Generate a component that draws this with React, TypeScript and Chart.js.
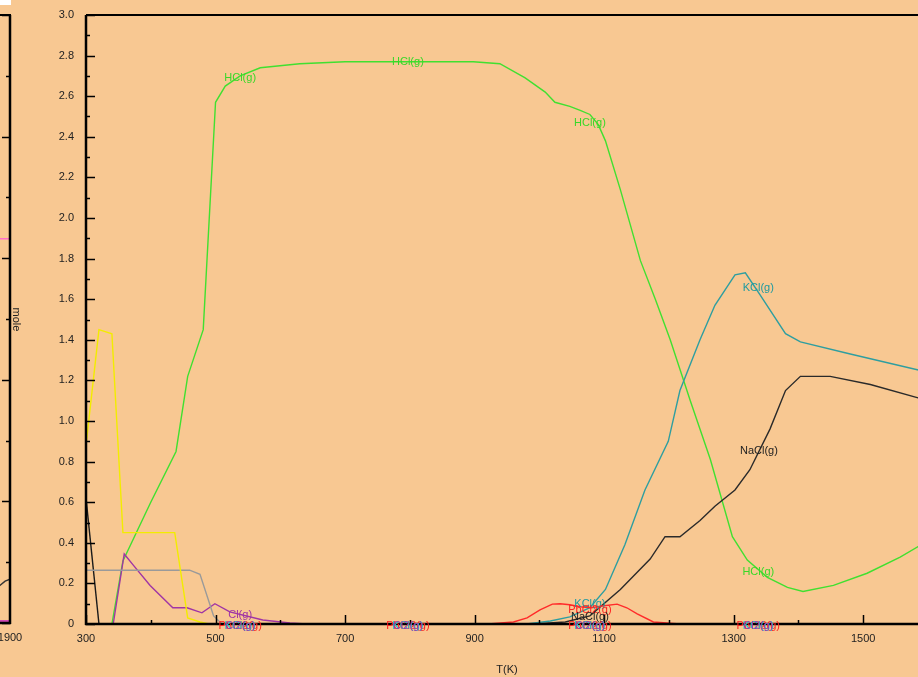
import React, { useEffect, useRef } from 'react';
import { Chart, registerables } from 'chart.js';
Chart.register(...registerables);

const BG = 'rgb(248,200,146)';
const FONT = 'Liberation Sans, Arial, sans-serif';
const TXT = '#222';

// ---- main chart data (T in K, amount in mole) ----
const hclT = [325, 340, 357, 400, 439, 457, 481, 500, 515, 538, 569, 630, 700, 898, 939, 978, 1009, 1024, 1047, 1063, 1078, 1091, 1102, 1125, 1156, 1179, 1202, 1233, 1264, 1298, 1321, 1352, 1383, 1407, 1454, 1506, 1557, 1600];
const hclV = [0, 0, 0.31, 0.6, 0.85, 1.22, 1.45, 2.57, 2.65, 2.7, 2.74, 2.76, 2.77, 2.77, 2.76, 2.69, 2.62, 2.57, 2.55, 2.53, 2.51, 2.46, 2.38, 2.14, 1.79, 1.6, 1.4, 1.1, 0.81, 0.43, 0.315, 0.23, 0.18, 0.16, 0.19, 0.25, 0.33, 0.41];

const yelT = [300, 320, 340, 357, 437, 457, 476, 490];
const yelV = [0.88, 1.45, 1.43, 0.45, 0.45, 0.03, 0.01, 0];

const greyT = [300, 460, 476, 497, 510];
const greyV = [0.265, 0.265, 0.245, 0.04, 0];

const purT = [335, 342, 359, 373, 399, 434, 456, 479, 499, 522, 573, 615, 640, 700];
const purV = [0, 0, 0.345, 0.29, 0.19, 0.08, 0.08, 0.055, 0.1, 0.06, 0.02, 0.005, 0, 0];

const blkT = [300, 320];
const blkV = [0.62, 0];

const redT = [921, 960, 981, 1001, 1020, 1032, 1047, 1063, 1080, 1100, 1120, 1135, 1151, 1176, 1217];
const redV = [0, 0.01, 0.03, 0.07, 0.098, 0.1, 0.095, 0.085, 0.08, 0.09, 0.098, 0.08, 0.05, 0.01, 0];

const kclT = [980, 1017, 1047, 1078, 1102, 1132, 1163, 1199, 1217, 1248, 1271, 1302, 1318, 1341, 1380, 1403, 1480, 1600];
const kclV = [0, 0.015, 0.035, 0.08, 0.17, 0.39, 0.66, 0.9, 1.15, 1.4, 1.57, 1.72, 1.73, 1.62, 1.43, 1.39, 1.33, 1.24];

const naclT = [990, 1040, 1078, 1125, 1171, 1194, 1217, 1248, 1271, 1302, 1325, 1356, 1380, 1403, 1449, 1511, 1600];
const naclV = [0, 0.01, 0.04, 0.17, 0.32, 0.43, 0.43, 0.51, 0.58, 0.66, 0.76, 0.96, 1.15, 1.22, 1.22, 1.18, 1.1];

// ---- curve labels (anchored in data space) ----
const labText = ['HCl(g)', 'HCl(g)', 'HCl(g)', 'HCl(g)', 'KCl(g)', 'KCl(g)', 'NaCl(g)', 'PbCl2(g)', 'NaCl(g)', 'Cl(g)'];
const labColor = ['#38D828', '#38D828', '#38D828', '#38D828', '#1E9AA0', '#1E9AA0', '#222222', '#FF2020', '#222222', '#A035A5'];
const labT = [538, 797, 1078, 1338, 1338, 1078, 1339, 1078, 1078, 538];
const labV = [2.69, 2.77, 2.47, 0.256, 1.655, 0.1, 0.85, 0.068, 0.034, 0.044];

// overlapping labels of species that stay at zero
const zeroLabT = [538, 797, 1078, 1338];
const zeroLabText = ['PbCl2(g)', 'KCl(g)', 'Cl2(g)'];
const zeroLabColor = ['#FF2020', '#10C8D8', '#A035A5'];

// ---- axis ticks ----
const xMin = 300, xMax = 1600, xStep = 100, xMajor = 200;
const yMin = 0, yMax = 3, yStep = 0.1, yMajor = 0.2;

// ---- left (cropped) neighbour panel ----
const leftXMin = 300, leftXMax = 1900;
const leftYMax = 2.5;
const pinkT = [1500, 1900];
const pinkV = [1.58, 1.58];
const lblkT = [1780, 1830, 1870, 1900];
const lblkV = [0.13, 0.15, 0.172, 0.18];
const lmagT = [1700, 1900];
const lmagV = [0.008, 0.008];

const pts = (t: number[], v: number[]) => t.map((x, i) => ({ x, y: v[i] }));
const isMajor = (v: number, base: number, step: number) => {
  const r = (v - base) / step;
  return Math.abs(r - Math.round(r)) < 1e-6;
};

function ds(t: number[], v: number[], color: string) {
  return { data: pts(t, v), borderColor: color, borderWidth: 1.4, pointRadius: 0, tension: 0, fill: false };
}

export default function App() {
  const mainRef = useRef<HTMLCanvasElement>(null);
  const leftRef = useRef<HTMLCanvasElement>(null);

  useEffect(() => {
    const line = (ctx: CanvasRenderingContext2D, x1: number, y1: number, x2: number, y2: number) => {
      ctx.beginPath();
      ctx.moveTo(x1, y1);
      ctx.lineTo(x2, y2);
      ctx.stroke();
    };

    const mainPlugin = {
      id: 'mainDeco',
      afterDraw(chart: any) {
        const { ctx, chartArea: a, scales } = chart;
        const xs = scales.x, ys = scales.y;
        ctx.save();
        ctx.strokeStyle = '#000';
        ctx.lineWidth = 1.5;
        ys.ticks.forEach((t: any) => {
          const p = Math.round(ys.getPixelForValue(t.value)) + 0.5;
          const len = isMajor(t.value, yMin, yMajor) ? 9 : 4;
          line(ctx, a.left, p, a.left + len, p);
        });
        xs.ticks.forEach((t: any) => {
          const p = Math.round(xs.getPixelForValue(t.value)) + 0.5;
          const len = isMajor(t.value, xMin, xMajor) ? 9 : 4;
          line(ctx, p, a.bottom, p, a.bottom - len);
        });
        ctx.lineWidth = 2.5;
        line(ctx, a.left, a.top, a.left, a.bottom + 1);
        line(ctx, a.left - 1, a.bottom, a.right, a.bottom);
        ctx.lineWidth = 2;
        line(ctx, a.left, a.top, a.right, a.top);

        // y title
        ctx.fillStyle = TXT;
        ctx.font = `11px ${FONT}`;
        ctx.textAlign = 'center';
        ctx.textBaseline = 'middle';
        ctx.save();
        ctx.translate(16, (a.top + a.bottom) / 2);
        ctx.rotate(Math.PI / 2);
        ctx.fillText('mole', 0, 0);
        ctx.restore();

        // curve labels
        ctx.font = `11px ${FONT}`;
        labText.forEach((s, i) => {
          ctx.fillStyle = labColor[i];
          ctx.fillText(s, xs.getPixelForValue(labT[i]), ys.getPixelForValue(labV[i]));
        });
        zeroLabT.forEach((tv) => {
          const px = xs.getPixelForValue(tv);
          const py = ys.getPixelForValue(0) + 2;
          zeroLabText.forEach((s, j) => {
            ctx.fillStyle = zeroLabColor[j];
            ctx.fillText(s, px, py);
          });
        });
        ctx.restore();
      },
    };

    const mainChart = new Chart(mainRef.current as HTMLCanvasElement, {
      type: 'line',
      data: {
        datasets: [
          ds(yelT, yelV, '#F2EC00'),
          ds(greyT, greyV, '#9A9A9A'),
          ds(blkT, blkV, '#1a1a1a'),
          ds(purT, purV, '#A035A5'),
          ds(redT, redV, '#FF2A2A'),
          ds(kclT, kclV, '#2E9EA0'),
          ds(naclT, naclV, '#2a2a2a'),
          ds(hclT, hclV, '#40E030'),
        ] as any,
      },
      options: {
        animation: false,
        responsive: false,
        maintainAspectRatio: false,
        parsing: false,
        layout: { padding: { top: 15, right: 12, left: 0, bottom: 0 } },
        plugins: { legend: { display: false }, tooltip: { enabled: false } },
        scales: {
          x: {
            type: 'linear',
            min: xMin,
            max: xMax,
            grid: { display: false, drawTicks: true, tickLength: 8 },
            border: { display: false },
            ticks: {
              stepSize: xStep,
              autoSkip: false,
              maxRotation: 0,
              padding: 0,
              color: TXT,
              font: { family: FONT, size: 11 },
              callback: (v: any) => (isMajor(Number(v), xMin, xMajor) ? String(v) : ''),
            },
            title: { display: true, text: 'T(K)', color: TXT, font: { family: FONT, size: 11 }, padding: { top: 0, bottom: 0 } },
            afterFit: (s: any) => {
              s.height = 53;
              s.paddingLeft = 0;
              s.paddingRight = 0;
            },
          },
          y: {
            type: 'linear',
            min: yMin,
            max: yMax,
            grid: { display: false, drawTicks: true, tickLength: 8 },
            border: { display: false },
            ticks: {
              stepSize: yStep,
              autoSkip: false,
              padding: 4,
              color: TXT,
              font: { family: FONT, size: 11 },
              callback: (v: any) => {
                const n = Number(v);
                if (!isMajor(n, yMin, yMajor)) return '';
                return Math.abs(n) < 1e-9 ? '0' : n.toFixed(1);
              },
            },
            afterFit: (s: any) => {
              s.width = 86;
              s.paddingTop = 0;
              s.paddingBottom = 0;
            },
          },
        },
      } as any,
      plugins: [mainPlugin as any],
    });

    const leftPlugin = {
      id: 'leftDeco',
      afterDraw(chart: any) {
        const { ctx, chartArea: a, scales } = chart;
        const ys = scales.y;
        ctx.save();
        ctx.strokeStyle = '#000';
        ctx.lineWidth = 1.5;
        ys.ticks.forEach((t: any) => {
          const p = Math.round(ys.getPixelForValue(t.value)) + 0.5;
          const len = isMajor(t.value, 0, 0.5) ? 8 : 4;
          line(ctx, a.right, p, a.right - len, p);
        });
        ctx.lineWidth = 2.5;
        line(ctx, a.right, a.top, a.right, a.bottom + 1);
        line(ctx, a.left, a.bottom, a.right + 1, a.bottom);
        ctx.lineWidth = 2;
        line(ctx, a.left, a.top, a.right + 1, a.top);
        ctx.restore();
      },
    };

    const leftChart = new Chart(leftRef.current as HTMLCanvasElement, {
      type: 'line',
      data: {
        datasets: [
          ds(pinkT, pinkV, '#FF6EC8'),
          ds(lblkT, lblkV, '#333333'),
          ds(lmagT, lmagV, '#C020C0'),
        ] as any,
      },
      options: {
        animation: false,
        responsive: false,
        maintainAspectRatio: false,
        parsing: false,
        layout: { padding: { top: 15, right: 20, left: 0, bottom: 0 } },
        plugins: { legend: { display: false }, tooltip: { enabled: false } },
        scales: {
          x: {
            type: 'linear',
            min: leftXMin,
            max: leftXMax,
            grid: { display: false, drawTicks: true, tickLength: 8 },
            border: { display: false },
            ticks: {
              stepSize: 400,
              autoSkip: false,
              maxRotation: 0,
              padding: 0,
              color: TXT,
              font: { family: FONT, size: 11 },
              callback: (v: any) => String(v),
            },
            afterFit: (s: any) => {
              s.height = 54;
              s.paddingLeft = 0;
              s.paddingRight = 0;
            },
          },
          y: {
            type: 'linear',
            min: 0,
            max: leftYMax,
            grid: { display: false },
            border: { display: false },
            ticks: { stepSize: 0.25, autoSkip: false, display: false },
            afterFit: (s: any) => {
              s.width = 20;
              s.paddingTop = 0;
              s.paddingBottom = 0;
            },
          },
        },
      } as any,
      plugins: [leftPlugin as any],
    });

    return () => {
      mainChart.destroy();
      leftChart.destroy();
    };
  }, []);

  return (
    <div
      style={{
        position: 'fixed',
        left: 0,
        top: 0,
        width: 918,
        height: 677,
        overflow: 'hidden',
        background: BG,
      }}
    >
      <canvas ref={leftRef} width={300} height={677} style={{ position: 'absolute', left: -270, top: 0 }} />
      <canvas ref={mainRef} width={940} height={677} style={{ position: 'absolute', left: 0, top: 0 }} />
      <div style={{ position: 'absolute', left: 0, top: 0, width: 11, height: 5, background: '#fff' }} />
    </div>
  );
}
